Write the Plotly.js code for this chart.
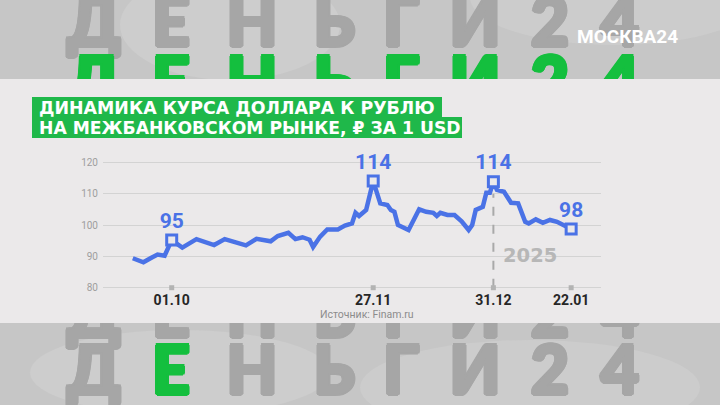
<!DOCTYPE html>
<html>
<head>
<meta charset="utf-8">
<script src="https://cdn.plot.ly/plotly-3.0.1.min.js"></script>
<style>html,body{margin:0;padding:0;background:#c7c7c7;}#chart{width:720px;height:405px;}</style>
</head>
<body>
<div id="chart"></div>
<script>
// ---- data ----
const dates = ['2024-09-20','2024-09-23','2024-09-25','2024-09-27','2024-09-29','2024-10-01','2024-10-04','2024-10-08','2024-10-13','2024-10-16',
  '2024-10-22','2024-10-25','2024-10-29','2024-10-31','2024-11-03','2024-11-05','2024-11-07','2024-11-09','2024-11-10','2024-11-12',
  '2024-11-14','2024-11-17','2024-11-19','2024-11-21','2024-11-22','2024-11-23','2024-11-25','2024-11-27','2024-11-29','2024-12-01',
  '2024-12-02','2024-12-03','2024-12-04','2024-12-07','2024-12-10','2024-12-12','2024-12-14','2024-12-15','2024-12-16','2024-12-18',
  '2024-12-20','2024-12-22','2024-12-24','2024-12-25','2024-12-26','2024-12-28','2024-12-29','2024-12-30','2024-12-31','2025-01-01',
  '2025-01-03','2025-01-05','2025-01-07','2025-01-09','2025-01-10','2025-01-12','2025-01-14','2025-01-16','2025-01-18','2025-01-22'];
const usdRub = [89.4, 88.1, 89.4, 90.6, 90.2, 95.2, 92.8, 95.5, 93.6, 95.5,
  93.5, 95.6, 94.8, 96.5, 97.5, 95.5, 96.1, 95.3, 93.0, 96.3,
  98.6, 98.6, 99.8, 100.5, 103.9, 102.9, 104.8, 114.0, 106.9, 106.4,
  104.8, 104.2, 100.0, 98.4, 105.0, 104.2, 103.9, 102.9, 103.9, 103.2,
  103.2, 101.2, 98.4, 100.0, 104.8, 105.8, 110.3, 110.3, 113.8, 111.2,
  110.6, 107.1, 106.9, 101.0, 100.5, 101.8, 100.7, 101.6, 101.0, 98.7];
const keyDates = ['2024-10-01','2024-11-27','2024-12-31','2025-01-22'];
const keyValues = [95.2, 114.0, 113.8, 98.7];
const keyLabels = ['95','114','114','98'];
const tickDates = ['2024-10-01','2024-11-27','2024-12-31','2025-01-22'];
const tickText = ['01.10','27.11','31.12','22.01'];
const yTicks = [80, 90, 100, 110, 120];
const yearMark = '2025';
const yearDate = '2024-12-31';
const titleLine1 = 'ДИНАМИКА КУРСА ДОЛЛАРА К РУБЛЮ';
const titleLine2 = 'НА МЕЖБАНКОВСКОМ РЫНКЕ, ₽ ЗА 1 USD';
const sourceText = 'Источник: Finam.ru';
const logoText = 'МОСКВА24';
const bgLetters = ['Д','Е','Н','Ь','Г','И','2','4'];

// ---- styling / layout ----
const BLUE = '#4a72e6';
const GREEN = '#1fb84a';
const LGREEN = '#14bf3e';
const LGRAY = '#a6a6a6';
const PANEL = '#ebe9ea';
const W = 720, H = 405;
const letterX = [94, 171, 252, 334, 401, 475, 550, 620];
const rows = [
  {y: 29, green: false, greenIdx: -1},
  {y: 88, green: true, greenIdx: -1},
  {y: 320, green: false, greenIdx: -1},
  {y: 377, green: false, greenIdx: 1}
];
const gray = {x: [], y: [], t: []}, grn = {x: [], y: [], t: []};
rows.forEach(r => bgLetters.forEach((ch, i) => {
  const g = (r.green || i === r.greenIdx) ? grn : gray;
  g.x.push(letterX[i]); g.y.push(r.y); g.t.push(ch);
}));
const thick = c => ['2px 0 0 ', '-2px 0 0 ', '0 2px 0 ', '0 -2px 0 ', '1.4px 1.4px 0 ', '-1.4px 1.4px 0 ', '1.4px -1.4px 0 ', '-1.4px -1.4px 0 ']
  .map(s => s + c).join(', ');
const letterTrace = (g, c) => ({ x: g.x, y: g.y, text: g.t, mode: 'text', xaxis: 'x', yaxis: 'y', hoverinfo: 'skip',
  textfont: {family: 'Lato, sans-serif', size: 66, weight: 900, color: c, shadow: thick(c)},
  textposition: 'middle center' });

const traces = [
  letterTrace(gray, LGRAY),
  letterTrace(grn, LGREEN),
  { x: [0, W, W, 0, 0], y: [79, 79, 323, 323, 79], mode: 'none', fill: 'toself', fillcolor: PANEL,
    xaxis: 'x', yaxis: 'y', hoverinfo: 'skip' },
  { x: tickDates, y: tickDates.map(() => yTicks[0]), mode: 'markers', xaxis: 'x2', yaxis: 'y2',
    marker: {symbol: 'square', size: 5, color: '#b3b3b3'}, cliponaxis: false, hoverinfo: 'skip' },
  { x: dates, y: usdRub, mode: 'lines', xaxis: 'x2', yaxis: 'y2',
    line: {color: BLUE, width: 4.5}, cliponaxis: false },
  { x: keyDates, y: keyValues, text: keyLabels, mode: 'markers+text', xaxis: 'x2', yaxis: 'y2',
    marker: {symbol: 'square', size: 10, color: PANEL, line: {color: BLUE, width: 3}},
    textposition: 'top center', textfont: {family: 'Roboto, sans-serif', size: 21, weight: 700, color: BLUE},
    cliponaxis: false }
];

const px = v => v / W, py = v => 1 - v / H;

const layout = {
  width: W, height: H,
  margin: {l: 0, r: 0, t: 0, b: 0},
  paper_bgcolor: '#c6c6c6',
  plot_bgcolor: 'rgba(0,0,0,0)',
  showlegend: false,
  xaxis: {domain: [0, 1], range: [0, W], visible: false, fixedrange: true},
  yaxis: {domain: [0, 1], range: [H, 0], visible: false, fixedrange: true},
  xaxis2: {anchor: 'y2', domain: [103 / W, 601 / W], type: 'date',
    range: ['2024-09-11 13:35', '2025-01-30 10:34'],
    tickmode: 'array', tickvals: tickDates, ticktext: tickText,
    showgrid: false, zeroline: false, showline: false, ticks: '',
    tickfont: {family: 'Roboto, sans-serif', size: 14, weight: 700, color: '#262626'}},
  yaxis2: {anchor: 'x2', domain: [115 / H, 265 / H], range: [79.27, 127.11],
    tickmode: 'array', tickvals: yTicks, showgrid: true, gridcolor: '#d3d3d3', gridwidth: 1,
    zeroline: false, showline: false, ticks: '', ticklabelstandoff: 4,
    tickfont: {family: 'Roboto, sans-serif', size: 10, color: '#9e9e9e'}},
  shapes: [
    {type: 'circle', xref: 'paper', yref: 'paper', layer: 'below', x0: px(120), x1: px(340), y0: py(80), y1: py(-30), fillcolor: '#cdcdcd', line: {width: 0}},
    {type: 'circle', xref: 'paper', yref: 'paper', layer: 'below', x0: px(470), x1: px(760), y0: py(45), y1: py(-50), fillcolor: '#cccccc', line: {width: 0}},
    {type: 'circle', xref: 'paper', yref: 'paper', layer: 'below', x0: px(30), x1: px(330), y0: py(415), y1: py(330), fillcolor: '#cdcdcd', line: {width: 0}},
    {type: 'circle', xref: 'paper', yref: 'paper', layer: 'below', x0: px(360), x1: px(700), y0: py(435), y1: py(340), fillcolor: '#cccccc', line: {width: 0}},
    {type: 'rect', xref: 'paper', yref: 'paper', layer: 'above', x0: px(32), x1: px(442), y0: py(118), y1: py(97), fillcolor: GREEN, line: {width: 0}},
    {type: 'rect', xref: 'paper', yref: 'paper', layer: 'above', x0: px(32), x1: px(462), y0: py(138), y1: py(117), fillcolor: GREEN, line: {width: 0}},
    {type: 'line', xref: 'x2', yref: 'y2', layer: 'between', x0: yearDate, x1: yearDate, y0: yTicks[0], y1: 110,
      line: {color: '#a9a9a9', width: 2, dash: 'dash'}}
  ],
  annotations: [
    {xref: 'paper', yref: 'paper', x: px(627), y: py(37), xanchor: 'center', yanchor: 'middle', text: logoText, showarrow: false,
      font: {family: 'Roboto, sans-serif', size: 19, weight: 700, color: '#ffffff'}},
    {xref: 'paper', yref: 'paper', x: px(37), y: py(107.5), xanchor: 'left', yanchor: 'middle', text: titleLine1, showarrow: false,
      font: {family: 'DejaVu Sans, sans-serif', size: 17.4, weight: 700, color: '#ffffff'}},
    {xref: 'paper', yref: 'paper', x: px(37), y: py(128), xanchor: 'left', yanchor: 'middle', text: titleLine2, showarrow: false,
      font: {family: 'DejaVu Sans, sans-serif', size: 17.2, weight: 700, color: '#ffffff'}},
    {xref: 'paper', yref: 'paper', x: px(367), y: py(314), xanchor: 'center', yanchor: 'middle', text: sourceText, showarrow: false,
      font: {family: 'Roboto, sans-serif', size: 10.5, color: '#8c8c8c'}},
    {xref: 'x2', yref: 'y2', x: yearDate, y: 90.4, xanchor: 'left', yanchor: 'middle', xshift: 8, text: yearMark, showarrow: false,
      font: {family: 'DejaVu Sans, sans-serif', size: 19.5, weight: 700, color: '#b7b7b7'}}
  ]
};

Plotly.newPlot('chart', traces, layout, {staticPlot: true, displayModeBar: false});
</script>
</body>
</html>
